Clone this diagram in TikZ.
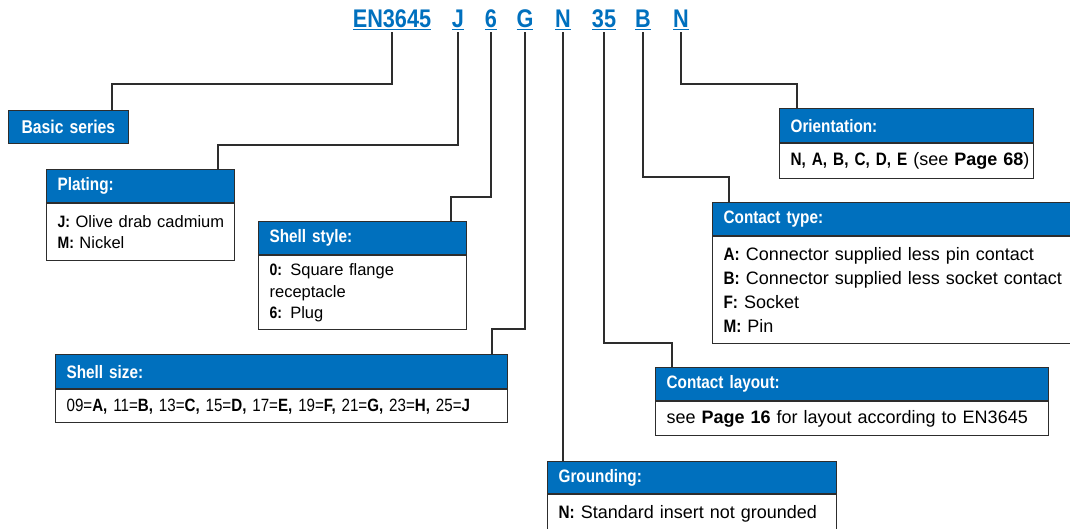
\documentclass[tikz,border=0pt]{standalone}
\usepackage{fontspec}
\setmainfont{Liberation Sans}
\newfontfamily\condfont[FakeStretch=0.85]{Liberation Sans}
\definecolor{codeBlue}{RGB}{0,112,190}
\definecolor{lineGrey}{RGB}{45,45,45}
\newcommand{\cb}[1]{{\condfont\bfseries #1}}

\begin{document}
\begin{tikzpicture}[x=1pt, y=-1pt,
    code/.style={text=codeBlue, anchor=base, inner xsep=0pt, inner ysep=2pt,
      font=\condfont\bfseries\fontsize{25.5}{30}\selectfont},
    head/.style={draw=lineGrey, line width=1.2pt, fill=codeBlue, text=white,
      anchor=north west, inner xsep=11pt, minimum height=33pt, align=left,
      font=\condfont\bfseries\fontsize{18}{20}\selectfont},
    body/.style={draw=lineGrey, line width=1.2pt, fill=white,
      anchor=north west, inner xsep=11pt, align=left},
    lfont/.style={font=\fontsize{16.5}{21.5}\selectfont},
    rfont/.style={font=\fontsize{18}{24}\selectfont},
    conn/.style={lineGrey, line width=1.3pt}]
  \useasboundingbox (0,0) rectangle (1070,529);

  % Part number
  \node[code] (cEN) at (392,28) {\underline{EN3645}};
  \node[code] (cJ) at (458,28) {\underline{J}};
  \node[code] (cSix) at (491,28) {\underline{6}};
  \node[code] (cG) at (525,28) {\underline{G}};
  \node[code] (cN) at (563,28) {\underline{N}};
  \node[code] (cTf) at (604,28) {\underline{35}};
  \node[code] (cB) at (643,28) {\underline{B}};
  \node[code] (cNo) at (681,28) {\underline{N}};

  % Left boxes
  \node[head, inner xsep=13pt, text width=94pt,
    font=\condfont\bfseries\fontsize{18.5}{20}\selectfont] (basic) at (8,110) {Basic series};

  \node[head, text width=166pt] (plating) at (46,169) {Plating:};
  \node[body, lfont, text width=166pt, minimum height=57pt] (platingB) at (plating.south west)
    {\mbox{\cb{J:} Olive drab cadmium}\\\cb{M:} Nickel};

  \node[head, text width=186pt] (style) at (258,221) {Shell style:};
  \node[body, lfont, text width=186pt, minimum height=74pt] (styleB) at (style.south west)
    {\cb{0:} Square flange\\receptacle\\\cb{6:} Plug};

  \node[head, text width=430pt, minimum height=34pt] (size) at (55,354) {Shell size:};
  \node[body, text width=430pt, minimum height=33pt,
    font=\condfont\fontsize{17.8}{21}\selectfont] (sizeB) at (size.south west)
    {09=\textbf{A,} 11=\textbf{B,} 13=\textbf{C,} 15=\textbf{D,} 17=\textbf{E,} 19=\textbf{F,} 21=\textbf{G,} 23=\textbf{H,} 25=\textbf{J}};

  % Right boxes
  \node[head, text width=232pt, minimum height=34pt] (orient) at (779,108) {Orientation:};
  \node[body, rfont, text width=232pt, minimum height=35pt] (orientB) at (orient.south west)
    {\mbox{\cb{N, A, B, C, D, E} (see \textbf{Page 68})}};

  \node[head, text width=358pt] (ctype) at (712,202) {Contact type:};
  \node[body, rfont, text width=358pt, minimum height=107pt] (ctypeB) at (ctype.south west)
    {\cb{A:} Connector supplied less pin contact\\\cb{B:} Connector supplied less socket contact\\
     \cb{F:} Socket\\\cb{M:} Pin};

  \node[head, text width=371pt] (layout) at (655,367) {Contact layout:};
  \node[body, rfont, text width=371pt, minimum height=34pt] (layoutB) at (layout.south west)
    {see \textbf{Page 16} for layout according to EN3645};

  \node[head, text width=267pt, minimum height=32pt] (ground) at (547,461) {Grounding:};
  \node[body, rfont, text width=267pt, minimum height=38pt] (groundB) at (ground.south west)
    {\cb{N:} Standard insert not grounded};

  % Elbows
  \coordinate (kEN) at (112,84);
  \coordinate (kJ) at (218,145);
  \coordinate (kSix) at (451,197);
  \coordinate (kG) at (492,329);
  \coordinate (kTf) at (672,343);
  \coordinate (kB) at (729,177);
  \coordinate (kNo) at (797,84);

  % Leader lines
  \draw[conn] (cEN.south) |- (kEN) -- (kEN |- basic.north);
  \draw[conn] (cJ.south) |- (kJ) -- (kJ |- plating.north);
  \draw[conn] (cSix.south) |- (kSix) -- (kSix |- style.north);
  \draw[conn] (cG.south) |- (kG) -- (kG |- size.north);
  \draw[conn] (cN.south) -- (cN.south |- ground.north);
  \draw[conn] (cTf.south) |- (kTf) -- (kTf |- layout.north);
  \draw[conn] (cB.south) |- (kB) -- (kB |- ctype.north);
  \draw[conn] (cNo.south) |- (kNo) -- (kNo |- orient.north);
\end{tikzpicture}
\end{document}
